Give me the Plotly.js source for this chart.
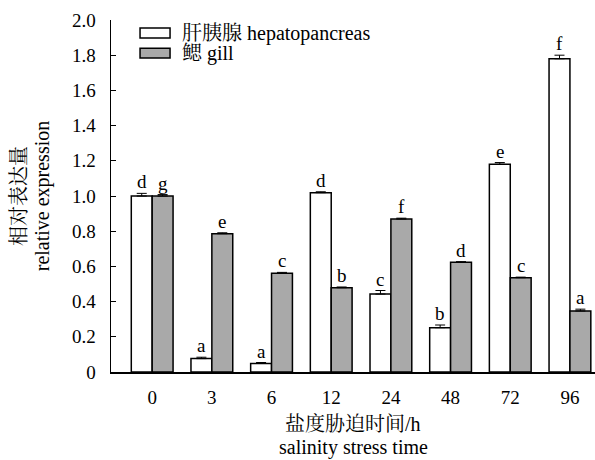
<!DOCTYPE html>
<html><head><meta charset="utf-8">
<script src="https://cdn.plot.ly/plotly-3.0.1.min.js"></script>
<style>body{margin:0;}#chart{width:595px;height:460px;}</style>
</head><body><div id="chart"></div>
<script>
const categories = ["0","3","6","12","24","48","72","96"];
const hepatoValues = [1.00, 0.076, 0.049, 1.019, 0.443, 0.252, 1.18, 1.78];
const hepatoErrors = [0.015, 0.008, 0.005, 0.005, 0.02, 0.015, 0.01, 0.02];
const hepatoLetters = ["d","a","a","d","c","b","e","f"];
const gillValues = [1.00, 0.786, 0.561, 0.479, 0.869, 0.623, 0.536, 0.347];
const gillErrors = [0.008, 0.005, 0.005, 0.004, 0.005, 0.004, 0.003, 0.01];
const gillLetters = ["g","e","c","b","f","d","c","a"];
const seriesNames = ["肝胰腺 hepatopancreas", "鳃 gill"];
const yTitleLines = ["相对表达量", "relative expression"];
const xTitleLines = ["盐度胁迫时间/h", "salinity stress time"];
const yTicks = [0,0.2,0.4,0.6,0.8,1.0,1.2,1.4,1.6,1.8,2.0];
const yTickText = ["0","0.2","0.4","0.6","0.8","1.0","1.2","1.4","1.6","1.8","2.0"];

const xIdx = categories.map((c,i)=>i);
const FONT = "Liberation Serif, Noto Serif CJK SC, Noto Sans CJK SC, serif";
const GREY = "#a9a9a9";

function errBar(arr){
  return {type:'data', symmetric:false, array:arr, arrayminus:arr.map(()=>0),
          color:'#000', thickness:1, width:5};
}
const traces = [
  {type:'bar', x:xIdx, y:hepatoValues, name:seriesNames[0],
   marker:{color:'#ffffff', line:{color:'#000', width:1.5}}, error_y:errBar(hepatoErrors)},
  {type:'bar', x:xIdx, y:gillValues, name:seriesNames[1],
   marker:{color:GREY, line:{color:'#000', width:1.5}}, error_y:errBar(gillErrors)}
];

const annotations = [];
const off = 0.175;
hepatoValues.forEach((v,i)=>annotations.push({x:i-off, y:v+hepatoErrors[i], text:hepatoLetters[i],
  showarrow:false, yanchor:'bottom', yshift:-1, font:{family:FONT,size:19,color:'#000'}}));
gillValues.forEach((v,i)=>annotations.push({x:i+off, y:v+gillErrors[i], text:gillLetters[i],
  showarrow:false, yanchor:'bottom', yshift:-1, font:{family:FONT,size:19,color:'#000'}}));
// legend (custom)
const legendY = [0.963, 0.906];
const shapes = [];
[ '#ffffff', GREY ].forEach((c,k)=>{
  shapes.push({type:'rect', xref:'paper', yref:'paper', x0:0.060, x1:0.122,
    y0:legendY[k]-0.014, y1:legendY[k]+0.014, fillcolor:c, line:{color:'#000',width:1.5}});
  annotations.push({xref:'paper', yref:'paper', x:0.142, y:legendY[k], xanchor:'left', yanchor:'middle',
    text:seriesNames[k], showarrow:false, font:{family:FONT,size:20,color:'#000'}});
});
// axis titles
[-0.190, -0.142].forEach((px,k)=>annotations.push({xref:'paper', yref:'paper', x:px, y:0.5,
  xanchor:'center', yanchor:'middle', textangle:-90, showarrow:false, text:yTitleLines[k],
  font:{family:FONT,size:20,color:'#000'}}));
[-0.148, -0.215].forEach((py,k)=>annotations.push({xref:'paper', yref:'paper', x:0.5, y:py,
  xanchor:'center', yanchor:'middle', showarrow:false, text:xTitleLines[k],
  font:{family:FONT,size:20,color:'#000'}}));

const layout = {
  width:595, height:460,
  margin:{l:111, r:0, t:20, b:88},
  paper_bgcolor:'#fff', plot_bgcolor:'#fff',
  barmode:'group', bargap:0.3, bargroupgap:0,
  showlegend:false,
  font:{family:FONT, size:18, color:'#000'},
  xaxis:{range:[-0.69,7.42], tickvals:xIdx, ticktext:categories, showline:true, linecolor:'#000',
    linewidth:1.5, ticks:'', showgrid:false, zeroline:false,
    tickfont:{family:FONT, size:19, color:'#000'}, ticklabelstandoff:8},
  yaxis:{range:[0,2.0], tickvals:yTicks, ticktext:yTickText, showline:true, linecolor:'#000',
    linewidth:1.5, ticks:'inside', ticklen:5, tickcolor:'#000', showgrid:false, zeroline:false,
    tickfont:{family:FONT, size:19, color:'#000'}, ticklabelstandoff:10},
  annotations:annotations, shapes:shapes
};
Plotly.newPlot('chart', traces, layout, {displayModeBar:false, staticPlot:true});
</script></body></html>
